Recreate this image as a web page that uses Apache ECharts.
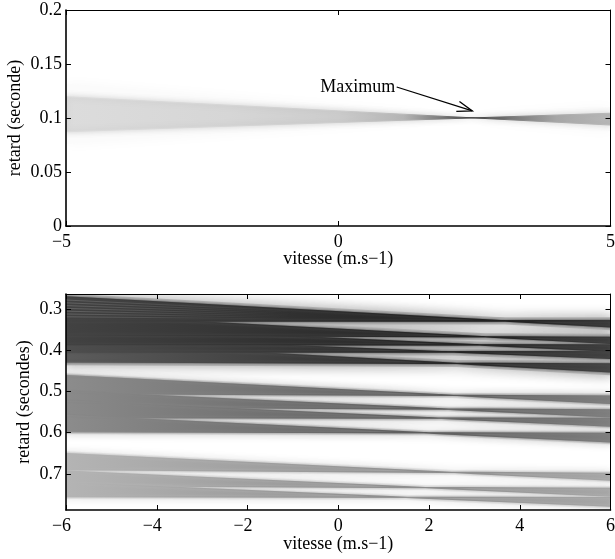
<!DOCTYPE html>
<html><head><meta charset="utf-8">
<style>html,body{margin:0;padding:0;background:#fff}#c{width:615px;height:559px}</style>
<script src="https://cdn.jsdelivr.net/npm/echarts@6/dist/echarts.min.js"></script>
</head><body><div id="c"></div>
<script>
// ---- upper panel ----
const topVRange = [-5, 5];
const topDelayRange = [0, 0.2];
const topVTicks = [-5, 0, 5];
const topDelayTicks = [0, 0.05, 0.1, 0.15, 0.2];
const topFanA = [0.1197, 0.0935];
const topFanB = [0.0873, 0.1044];
const topWideA = [0.132, 0.088];
const topWideB = [0.076, 0.110];
const topStopV = [-5, -2, 0, 1.2, 1.8, 2.47, 3.2, 4, 5];
const topStopGray = [220, 214, 205, 185, 135, 60, 125, 170, 185];
const arrowFrom = [1.073, 0.1287];
const arrowTo = [2.462, 0.1065];
const labelAt = [0.358, 0.1287];
const labelText = 'Maximum';

// ---- lower panel ----
const lowVRange = [-6, 6];
const lowDelayRange = [0.2636, 0.7875];
const lowVTicks = [-6, -4, -2, 0, 2, 4, 6];
const lowDelayTicks = [0.3, 0.4, 0.5, 0.6, 0.7];
// each arrival is a wedge pair: edge A and edge B, at v=-6 and v=+6 (paint order)
const edgeAStart = [0.3811,0.3670,0.3413,0.3146,0.2709, 0.4619,0.5000,0.5231,0.5583, 0.6512,0.6932,0.7214];
const edgeAEnd   = [0.4522,0.4197,0.4019,0.3833,0.3430, 0.5289,0.5614,0.5840,0.6221, 0.7150,0.7539,0.7782];
const edgeBStart = [0.4279,0.4044,0.3862,0.3631,0.3291, 0.5051,0.5369,0.5633,0.5973, 0.6891,0.7284,0.7546];
const edgeBEnd   = [0.4335,0.4036,0.3874,0.3687,0.3284, 0.5112,0.5451,0.5653,0.6017, 0.6988,0.7352,0.7575];
const focusV     = [2.75,2.7,3.0,3.3,3.7, 2.5,2.3,2.2,1.95, 2.35,1.8,1.4];
const grayStart  = [92,78,66,66,66, 140,138,138,140, 180,180,180];
const grayFocus  = [38,36,34,34,32, 92,92,92,92, 140,140,140];
const grayEnd    = [68,64,60,60,56, 126,126,126,126, 166,166,166];
const haloGray   = [178,178,178,178,178, 215,215,215,215, 232,232,232];
const haloWidth  = [7,7,7,7,7, 5,5,5,5, 5,5,5];
const haloBlur   = [13,13,13,13,13, 9,9,9,9, 9,9,9];
const stripeStart = [0.2782,0.2850,0.2917,0.2985,0.3053,0.3121,0.3189];
const stripeEnd   = [0.3046,0.3078,0.3112,0.3143,0.3172,0.3204,0.3238];
const stripeVEnd = -1;

const FONT = '"Liberation Serif","Times New Roman",serif';
const gray = g => `rgb(${g},${g},${g})`;
const minusLabel = v => {
  const s = String(v);
  return v < 0 ? s.replace('-', '\u2212') + '\u00A0\u00A0' : s;
};

function xAxisOf(idx, range, ticks, title, gap, interval) {
  const common = {
    type: 'value', gridIndex: idx, min: range[0], max: range[1], interval, z: 5,
    splitLine: {show: false},
    axisTick: {show: true, inside: true, length: 5, lineStyle: {color: '#000', width: 1}}
  };
  return [
    Object.assign({}, common, {
      position: 'bottom', name: title, nameLocation: 'middle', nameGap: gap, nameMoveOverlap: false,
      nameTextStyle: {fontFamily: FONT, fontSize: 18, color: '#000'},
      axisLine: {show: true, onZero: false, lineStyle: {color: '#000', width: 1.6}},
      axisLabel: {show: true, fontFamily: FONT, fontSize: 18, color: '#000', margin: 7,
        hideOverlap: false, showMinLabel: true, showMaxLabel: true, formatter: minusLabel}
    }),
    Object.assign({}, common, {
      position: 'top',
      axisLine: {show: true, onZero: false, lineStyle: {color: '#000', width: 1}},
      axisLabel: {show: false}
    })
  ];
}
function yAxisOf(idx, range, ticks, title, gap, inverse) {
  const common = {
    type: 'value', gridIndex: idx, min: range[0], max: range[1], inverse, z: 5,
    splitLine: {show: false},
    axisTick: {show: true, inside: true, length: 5, customValues: ticks, lineStyle: {color: '#000', width: 1}}
  };
  return [
    Object.assign({}, common, {
      position: 'left', name: title, nameLocation: 'middle', nameGap: gap, nameMoveOverlap: false,
      nameTextStyle: {fontFamily: FONT, fontSize: 18, color: '#000'},
      axisLine: {show: true, onZero: false, lineStyle: {color: '#000', width: 1.6}},
      axisLabel: {show: true, fontFamily: FONT, fontSize: 18, color: '#000', margin: 4,
        customValues: ticks, hideOverlap: false, formatter: v => String(v)}
    }),
    Object.assign({}, common, {
      position: 'right',
      axisLine: {show: true, onZero: false, lineStyle: {color: '#000', width: 1}},
      axisLabel: {show: false}
    })
  ];
}

function wedge(api, v0, v1, a0, a1, b0, b1) {
  return [api.coord([v0, a0]), api.coord([v1, a1]), api.coord([v1, b1]), api.coord([v0, b0])];
}

const lowData = edgeAStart.map((a, i) => [a, edgeAEnd[i], edgeBStart[i], edgeBEnd[i], focusV[i], grayStart[i], grayFocus[i], grayEnd[i], haloGray[i], haloWidth[i], haloBlur[i]]);

function bandPoints(api) {
  return wedge(api, lowVRange[0], lowVRange[1], api.value(0), api.value(1), api.value(2), api.value(3));
}
function lowHalo(params, api) {
  const h = gray(api.value(8));
  return {type: 'polygon', shape: {points: bandPoints(api)},
    style: {fill: h, stroke: h, lineWidth: api.value(9), lineJoin: 'bevel', shadowBlur: api.value(10), shadowColor: h}};
}
function lowBand(params, api) {
  const off = (api.value(4) - lowVRange[0]) / (lowVRange[1] - lowVRange[0]);
  const fill = new echarts.graphic.LinearGradient(0, 0, 1, 0, [
    {offset: 0, color: gray(api.value(5))},
    {offset: off, color: gray(api.value(6))},
    {offset: 1, color: gray(api.value(7))}
  ]);
  return {type: 'polygon', shape: {points: bandPoints(api)},
    style: {fill, stroke: fill, lineWidth: 1.4, lineJoin: 'bevel', shadowBlur: 2.5, shadowColor: gray(api.value(6) + 40)}};
}
function stripe(params, api) {
  const p0 = api.coord([lowVRange[0], api.value(0)]);
  const p1 = api.coord([stripeVEnd, api.value(1)]);
  return {type: 'line', shape: {x1: p0[0], y1: p0[1], x2: p1[0], y2: p1[1]},
    style: {lineWidth: 1, stroke: new echarts.graphic.LinearGradient(0, 0, 1, 0, [
      {offset: 0, color: 'rgba(255,255,255,0.17)'},
      {offset: 1, color: 'rgba(255,255,255,0)'}])}};
}
function topWide(params, api) {
  return {type: 'polygon', shape: {points: wedge(api, topVRange[0], topVRange[1], topWideA[0], topWideA[1], topWideB[0], topWideB[1])},
    style: {fill: '#fbfbfb', shadowBlur: 14, shadowColor: 'rgba(0,0,0,0.03)'}};
}
function topBand(params, api) {
  const span = topVRange[1] - topVRange[0];
  const fill = new echarts.graphic.LinearGradient(0, 0, 1, 0,
    topStopV.map((v, i) => ({offset: (v - topVRange[0]) / span, color: gray(topStopGray[i])})));
  const pts = wedge(api, topVRange[0], topVRange[1], topFanA[0], topFanA[1], topFanB[0], topFanB[1]);
  return {type: 'polygon', shape: {points: pts}, style: {fill, stroke: fill, lineWidth: 1, lineJoin: 'bevel', shadowBlur: 6, shadowColor: 'rgba(0,0,0,0.16)'}};
}
function annotation(params, api) {
  const a = api.coord(arrowFrom), b = api.coord(arrowTo), t = api.coord(labelAt);
  const ang = Math.atan2(b[1] - a[1], b[0] - a[0]);
  const barb = s => [b[0] - 16 * Math.cos(ang + s), b[1] - 16 * Math.sin(ang + s)];
  const line = {stroke: '#000', lineWidth: 1.3, fill: null};
  return {type: 'group', children: [
    {type: 'polyline', shape: {points: [a, b]}, style: line},
    {type: 'polyline', shape: {points: [barb(0.33), b, barb(-0.33)]}, style: line},
    {type: 'text', x: t[0], y: t[1], style: {text: labelText, fontFamily: FONT, fontSize: 18, fill: '#000', align: 'center', verticalAlign: 'middle'}}
  ]};
}

const chart = echarts.init(document.getElementById('c'), null, {renderer: 'canvas'});
chart.setOption({
  animation: false,
  backgroundColor: '#fff',
  grid: [
    {left: 66, top: 10, width: 544.5, height: 216, outerBoundsMode: 'none'},
    {left: 66, top: 294, width: 544.5, height: 216, outerBoundsMode: 'none'}
  ],
  xAxis: [
    ...xAxisOf(0, topVRange, topVTicks, 'vitesse (m.s\u22121)', 24, 5),
    ...xAxisOf(1, lowVRange, lowVTicks, 'vitesse (m.s\u22121)', 25, 2)
  ],
  yAxis: [
    ...yAxisOf(0, topDelayRange, topDelayTicks, 'retard (seconde)', 42, false),
    ...yAxisOf(1, lowDelayRange, lowDelayTicks, 'retard (secondes)', 33, true)
  ],
  series: [
    {type: 'custom', xAxisIndex: 0, yAxisIndex: 0, clip: true, z: 1, silent: true, data: [[0]], renderItem: topWide},
    {type: 'custom', xAxisIndex: 0, yAxisIndex: 0, clip: true, z: 2, silent: true, data: [[0]], renderItem: topBand},
    {type: 'custom', xAxisIndex: 0, yAxisIndex: 0, z: 3, silent: true, data: [[0]], renderItem: annotation},
    {type: 'custom', xAxisIndex: 2, yAxisIndex: 2, clip: true, z: 1, silent: true, data: lowData, renderItem: lowHalo,
      encode: {x: [], y: 0}},
    {type: 'custom', xAxisIndex: 2, yAxisIndex: 2, clip: true, z: 2, silent: true, data: lowData, renderItem: lowBand,
      encode: {x: [], y: 0}},
    {type: 'custom', xAxisIndex: 2, yAxisIndex: 2, clip: true, z: 3, silent: true,
      data: stripeStart.map((s, i) => [s, stripeEnd[i]]), renderItem: stripe, encode: {x: [], y: 0}}
  ]
});
</script></body></html>
